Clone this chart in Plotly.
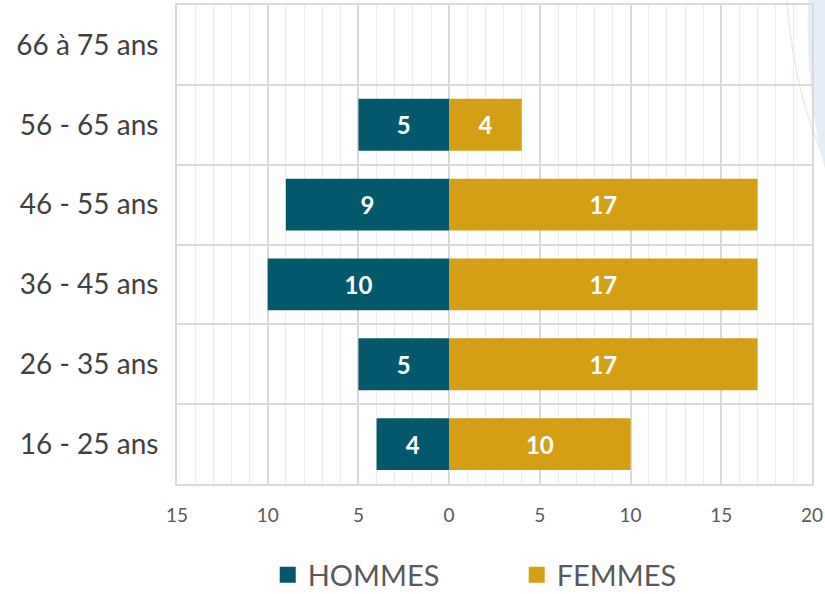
import plotly.graph_objects as go

# age groups, bottom to top
ages = ["16 - 25 ans", "26 - 35 ans", "36 - 45 ans", "46 - 55 ans", "56 - 65 ans", "66 à 75 ans"]
hommes = [4, 5, 10, 9, 5, 0]
femmes = [10, 17, 17, 17, 4, 0]

tick_vals = [-15, -10, -5, 0, 5, 10, 15, 20]
tick_text = ["15", "10", "5", "0", "5", "10", "15", "20"]

c_h = "#03596b"
c_f = "#d49f14"

fig = go.Figure()

# hommes on the left (negative values)
fig.add_trace(go.Bar(y=ages, x=[-v for v in hommes], orientation="h",
                     marker=dict(color=c_h, line=dict(width=0)),
                     text=[str(v) if v else "" for v in hommes],
                     textposition="inside", insidetextanchor="middle",
                     constraintext="none",
                     textfont=dict(color="white", size=24, family="Lato", weight="bold"),
                     showlegend=False, hoverinfo="skip"))
fig.add_trace(go.Bar(y=ages, x=femmes, orientation="h",
                     marker=dict(color=c_f, line=dict(width=0)),
                     text=[str(v) if v else "" for v in femmes],
                     textposition="inside", insidetextanchor="middle",
                     constraintext="none",
                     textfont=dict(color="white", size=24, family="Lato", weight="bold"),
                     showlegend=False, hoverinfo="skip"))

# legend entries with bigger squares
fig.add_trace(go.Scatter(x=[None], y=[None], mode="markers", name="HOMMES",
                         marker=dict(symbol="square", size=18, color=c_h)))
fig.add_trace(go.Scatter(x=[None], y=[None], mode="markers", name="FEMMES",
                         marker=dict(symbol="square", size=18, color=c_f)))

fig.update_layout(
    width=825, height=594,
    barmode="relative", bargap=0.35,
    margin=dict(l=177, r=13, t=5, b=110, autoexpand=False),
    plot_bgcolor="white", paper_bgcolor="white",
    font=dict(family="Lato", color="#595959"),
    legend=dict(orientation="h", x=0.535, xanchor="center", y=-0.19, yanchor="middle",
                font=dict(size=29, color="#595959"), itemsizing="trace",
                entrywidth=204, entrywidthmode="pixels"),
    xaxis=dict(range=[-15, 20], tickvals=tick_vals, ticktext=tick_text, automargin=False,
               showgrid=True, gridcolor="#d9d9d9", gridwidth=1.5,
               minor=dict(dtick=1, tick0=0, showgrid=True, gridcolor="#ebebeb", gridwidth=1),
               zeroline=False, showline=True, mirror=True, linecolor="#d9d9d9", linewidth=2,
               tickfont=dict(size=19, color="#595959"), ticks="", ticklabelstandoff=13),
    yaxis=dict(type="category", categoryarray=ages, tickson="boundaries", automargin=False,
               showgrid=True, gridcolor="#d9d9d9", gridwidth=2,
               showline=True, mirror=True, linecolor="#d9d9d9", linewidth=2,
               ticks="", tickfont=dict(size=28, color="#404040"), ticklabelstandoff=11),
)

# faint decoration in the top right corner
fig.add_shape(type="path", xref="paper", yref="paper", layer="below",
              path="M 0.994,1.012 C 0.99,0.9 1.0,0.75 1.021,0.655 L 1.021,1.012 Z",
              fillcolor="#e6eef8", line=dict(width=0))
fig.add_shape(type="path", xref="paper", yref="paper", layer="below",
              path="M 0.96,1.012 C 0.97,0.85 0.995,0.75 1.021,0.675",
              line=dict(color="#e3ebf5", width=1.5))

# drop the default 8px body margin so the figure sits at the window corner
fig.write_html("out.html", config={"displayModeBar": False},
               post_script="document.body.style.margin='0';")
